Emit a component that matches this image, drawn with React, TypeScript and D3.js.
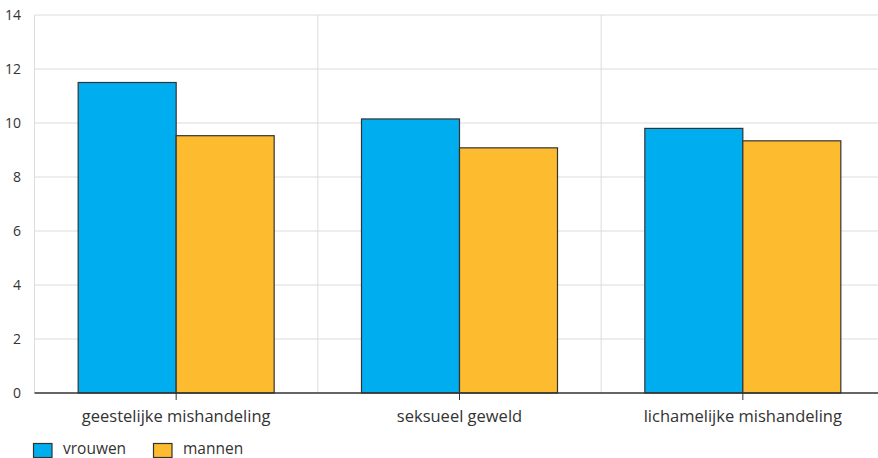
import React from "react";
import * as d3 from "d3";

const categories = ["geestelijke mishandeling", "seksueel geweld", "lichamelijke mishandeling"];
const seriesNames = ["vrouwen", "mannen"];
const vrouwen = [11.5, 10.15, 9.8];
const mannen = [9.53, 9.08, 9.34];
const yTicks = [0, 2, 4, 6, 8, 10, 12, 14];
const colors = ["#00aeef", "#fdbb30"];

export default function App() {
  const W = 878, H = 458;
  const left = 34.5, right = 884.5, top = 15, bottom = 393;
  const x = d3.scaleBand<string>().domain(categories).range([left, right]).paddingInner(0).paddingOuter(0);
  const y = d3.scaleLinear().domain([0, 14]).range([bottom, top]);
  const series = [vrouwen, mannen];
  const barW = 98;
  const font = "'Open Sans', 'Noto Sans', sans-serif";
  return (
    <svg width={W} height={H} style={{ position: "absolute", left: 0, top: 0 }} fontFamily={font}>
      <rect width={W} height={H} fill="#fff" />
      {yTicks.map((t) => (
        <g key={t}>
          {t > 0 && <line x1={left} x2={right} y1={y(t)} y2={y(t)} stroke="#dcdcdc" strokeWidth={1} />}
          <text x={21} y={y(t)} dy="0.35em" textAnchor="end" fontSize={14} fill="#333">{t}</text>
        </g>
      ))}
      {categories.map((c) => (
        <line key={c} x1={x(c)!} x2={x(c)!} y1={top} y2={bottom} stroke="#dcdcdc" strokeWidth={1} />
      ))}
      {categories.map((c, i) => {
        const cx = x(c)! + x.bandwidth() / 2;
        return (
          <g key={c}>
            {series.map((s, j) => (
              <rect key={j} x={cx - barW + j * barW} y={y(s[i])} width={barW} height={bottom - y(s[i])}
                fill={colors[j]} stroke="#333" strokeWidth={1.2} />
            ))}
            <line x1={cx} x2={cx} y1={bottom} y2={bottom + 7} stroke="#333" strokeWidth={1} />
            <text x={cx} y={422} textAnchor="middle" fontSize={16.5} fill="#333">{c}</text>
          </g>
        );
      })}
      <line x1={left} x2={right} y1={bottom} y2={bottom} stroke="#333" strokeWidth={1.5} />
      {seriesNames.map((n, j) => (
        <g key={n} transform={`translate(${33 + j * 120},443)`}>
          <rect x={0.5} y={0.5} width={18.5} height={14} fill={colors[j]} stroke="#333" strokeWidth={1.2} />
          <text x={30} y={10.5} fontSize={15.5} fill="#333">{n}</text>
        </g>
      ))}
    </svg>
  );
}
